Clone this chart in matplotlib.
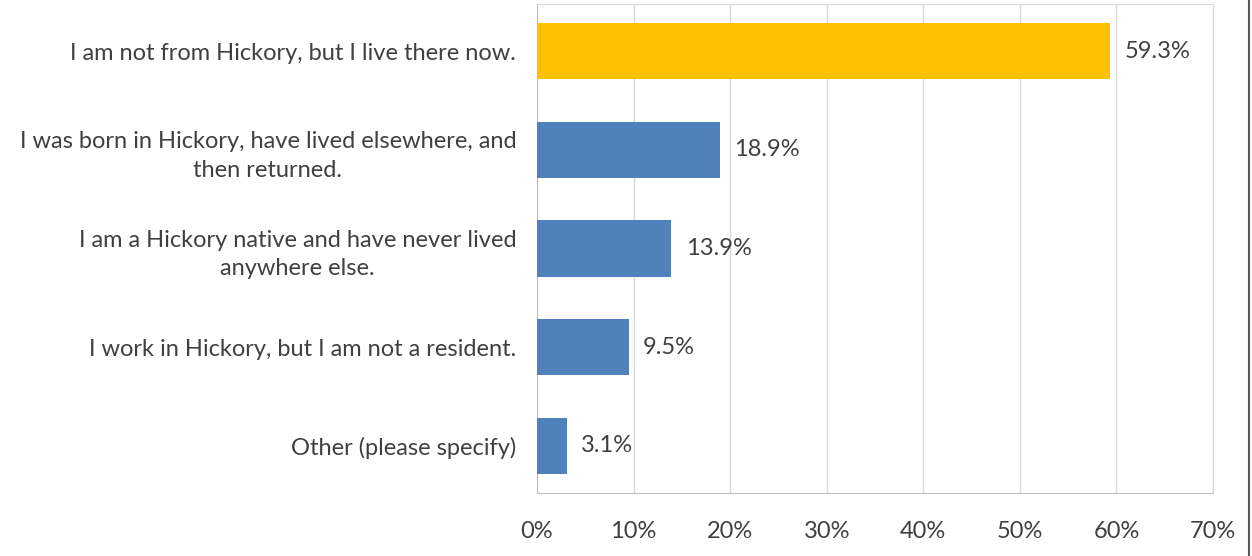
import matplotlib.pyplot as plt
from matplotlib.ticker import PercentFormatter

# 데이터
categories = [
    "I am not from Hickory, but I live there now.",
    "I was born in Hickory, have lived elsewhere, and\nthen returned.",
    "I am a Hickory native and have never lived\nanywhere else.",
    "I work in Hickory, but I am not a resident.",
    "Other (please specify)",
]
values = [59.3, 18.9, 13.9, 9.5, 3.1]
colors = ["#FFC000", "#4F81BD", "#4F81BD", "#4F81BD", "#4F81BD"]
ticks = [0, 10, 20, 30, 40, 50, 60, 70]

plt.rcParams['font.family'] = ['Lato', 'DejaVu Sans']
text_color = "#404040"
fs = 17

fig = plt.figure(figsize=(12.52, 5.56), dpi=100)
ax = fig.add_axes([0.4289, 0.1133, 0.5400, 0.8795])

y = list(range(len(categories)))
ax.barh(y, values, height=0.57, color=colors, zorder=3)
ax.set_ylim(4.48, -0.48)
ax.set_xlim(0, 70)
ax.set_xticks(ticks)
ax.xaxis.set_major_formatter(PercentFormatter(decimals=0))
ax.set_yticks(y)
ax.set_yticklabels(categories, multialignment='center', linespacing=1.45)

for i, v in enumerate(values):
    ax.text(v + 1.5, i, f"{v:.1f}%", va='center', ha='left', fontsize=fs, color=text_color)

ax.grid(axis='x', color='#D9D9D9', linewidth=1, zorder=0)
for s in ['top', 'right']:
    ax.spines[s].set_color('#D9D9D9')
ax.spines['left'].set_color('#BFBFBF')
ax.spines['bottom'].set_color('#BFBFBF')
ax.tick_params(axis='both', length=0, labelsize=fs, labelcolor=text_color)
ax.tick_params(axis='x', pad=20)
ax.tick_params(axis='y', pad=15)

# 오른쪽 테두리
fig.add_artist(plt.Line2D([0.9976, 0.9976], [0, 1], color='#595959', linewidth=1.5))

fig.savefig("out.png", dpi=100)
